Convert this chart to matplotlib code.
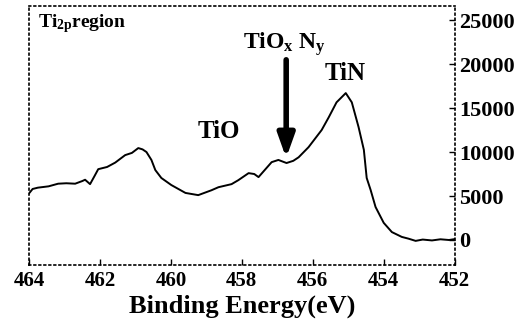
import numpy as np
from matplotlib import pyplot as plt

# Ti 2p XPS spectrum
energy = [464.0, 463.9, 463.75, 463.45, 463.18, 462.95, 462.7, 462.5, 462.42, 462.28,
          462.15, 462.05, 461.8, 461.57, 461.29, 461.1,
          460.92, 460.8, 460.69, 460.55, 460.44, 460.27, 459.99, 459.59, 459.23, 458.86,
          458.66, 458.29, 458.1, 457.81, 457.65, 457.53, 457.16, 456.97, 456.74, 456.55,
          456.4, 456.12, 455.75, 455.55, 455.33, 455.07, 454.9, 454.71, 454.56, 454.48,
          454.37, 454.23, 454.0, 453.77, 453.49, 453.3, 453.1, 452.9, 452.64, 452.4,
          452.16, 452.0]
counts = [5300, 5800, 5950, 6100, 6400, 6450, 6400, 6700, 6850, 6350,
          7300, 8050, 8300, 8800, 9650, 9900,
          10450, 10300, 10000, 9100, 7950, 7050, 6250, 5350, 5100, 5650,
          6000, 6350, 6800, 7600, 7500, 7150, 8850, 9100, 8750, 9000,
          9400, 10550, 12500, 13950, 15650, 16700, 15650, 12850, 10250, 7050,
          5700, 3750, 1950, 900, 350, 150, -100, 50, -50, 80,
          0, 100]

x_ticks = [464, 462, 460, 458, 456, 454, 452]
y_ticks = [0, 5000, 10000, 15000, 20000, 25000]

plt.rcParams['font.family'] = ['Liberation Serif', 'DejaVu Serif']
plt.rcParams['font.weight'] = 'bold'
plt.rcParams['mathtext.fontset'] = 'custom'
plt.rcParams['mathtext.rm'] = 'Liberation Serif:bold'
plt.rcParams['mathtext.bf'] = 'Liberation Serif:bold'
plt.rcParams['mathtext.default'] = 'bf'

fig = plt.figure(figsize=(5.19, 3.33), dpi=100)
ax = fig.add_axes([0.056, 0.204, 0.82, 0.778])

ax.plot(energy, counts, color='black', lw=1.4)

ax.set_xlim(464, 452)
ax.set_ylim(-2850, 26600)
ax.set_xticks(x_ticks)
ax.set_yticks(y_ticks)
ax.yaxis.tick_right()
ax.tick_params(axis='both', direction='in', length=4, width=1, pad=4)
ax.tick_params(axis='x', labelsize=15)
ax.tick_params(axis='y', labelsize=16, pad=3)
for lbl in ax.get_xticklabels() + ax.get_yticklabels():
    lbl.set_fontweight('bold')

for sp in ax.spines.values():
    sp.set_linestyle((0, (1, 2)))
    sp.set_linewidth(1.2)

ax.set_xlabel('Binding Energy(eV)', fontsize=19, fontweight='bold', labelpad=3)

ax.text(0.02, 0.975, r'Ti$_{2p}$region', transform=ax.transAxes, fontsize=14,
        fontweight='bold', va='top', ha='left')
ax.text(458.65, 11600, 'TiO', fontsize=18, fontweight='bold', ha='center', va='baseline')
ax.text(455.1, 18200, 'TiN', fontsize=18, fontweight='bold', ha='center', va='baseline')
ax.text(456.8, 21700, r'TiO$_{x}$ N$_{y}$', fontsize=17,
        fontweight='bold', ha='center', va='baseline')
ax.annotate('', xy=(456.75, 9000), xytext=(456.75, 20800),
            arrowprops=dict(arrowstyle='-|>,head_width=0.5,head_length=1.4',
                            color='black', lw=4))

fig.savefig('out.png', dpi=100)
